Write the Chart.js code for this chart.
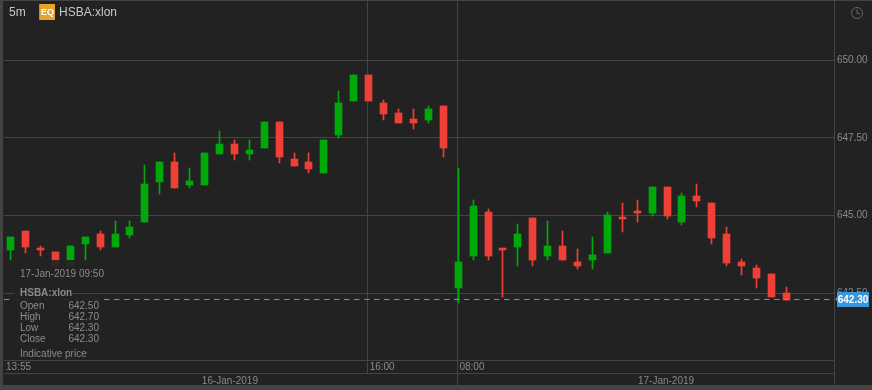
<!DOCTYPE html>
<html>
<head>
<meta charset="utf-8">
<title>HSBA:xlon</title>
<script src="https://cdn.jsdelivr.net/npm/chart.js@4"></script>
<style>
  html, body { margin: 0; padding: 0; background: #222; }
  #wrap { position: relative; width: 872px; height: 390px; overflow: hidden; background: #222;
          font-family: "Liberation Sans", Arial, sans-serif; }
  #chart { position: absolute; left: 0; top: 0; }
  .rule { position: absolute; background: #444; }
  .txt { position: absolute; white-space: nowrap; }
  #tip { position: absolute; left: 14px; top: 260px; width: 90px; height: 100px;
         background: rgba(34,34,34,.9); color: #8c8c8c; font-size: 10px; }
  #tip .txt { line-height: 12px; }
</style>
</head>
<body>
<div id="wrap">
  <canvas id="chart" width="872" height="390"></canvas>

  <div class="rule" style="left:0;top:0;width:3px;height:390px"></div>
  <div class="rule" style="left:0;top:0;width:872px;height:1px"></div>
  <div class="rule" style="left:0;top:385px;width:872px;height:5px"></div>
  <div class="rule" style="left:834px;top:360px;width:1px;height:25px"></div>

  <div class="txt" style="left:9px;top:5px;font-size:12px;color:#c8c8c8;line-height:14px">5m</div>
  <div class="txt" style="left:39px;top:4px;width:16px;height:16px;background:#e8a228;border-left:1px solid #c98a1c;box-sizing:border-box;color:#fff;font-size:9px;font-weight:bold;line-height:16px;text-align:center">EQ</div>
  <div class="txt" style="left:59px;top:5px;font-size:12px;color:#c8c8c8;line-height:14px">HSBA:xlon</div>
  <svg class="txt" style="left:850px;top:6px" width="14" height="14" viewBox="0 0 14 14">
    <circle cx="7" cy="7" r="5.5" fill="none" stroke="#666" stroke-width="1"/>
    <path d="M7 3.5V7.5H10" fill="none" stroke="#666" stroke-width="1"/>
  </svg>

  <div id="tip">
    <div class="txt" style="left:6px;top:8px">17-Jan-2019 09:50</div>
    <div class="rule" style="left:0;top:33px;width:90px;height:1px"></div>
    <div class="txt" style="left:0;top:26px;padding:0 0 0 6px;background:#222;font-weight:bold;line-height:13px">HSBA:xlon</div>
    <div class="txt" style="left:6px;top:40px">Open</div><div class="txt" style="right:5px;top:40px">642.50</div>
    <div class="txt" style="left:6px;top:51px">High</div><div class="txt" style="right:5px;top:51px">642.70</div>
    <div class="txt" style="left:6px;top:62px">Low</div><div class="txt" style="right:5px;top:62px">642.30</div>
    <div class="txt" style="left:6px;top:73px">Close</div><div class="txt" style="right:5px;top:73px">642.30</div>
    <div class="txt" style="left:6px;top:88px">Indicative price</div>
  </div>

  <div class="txt" style="left:835px;top:297px;width:0;height:0;border-top:2.5px solid transparent;border-bottom:2.5px solid transparent;border-right:2px solid #3a96dc"></div>
  <div class="txt" style="left:837px;top:292px;width:32px;height:15px;background:#3a96dc;color:#fff;font-size:10px;font-weight:bold;line-height:15px;text-align:center">642.30</div>
</div>

<script>
const opens  = [643.9,644.5,643.9,643.8,643.4,644.1,644.4,644.0,644.4,644.8,646.1,646.7,646.0,646.0,647.0,647.3,647.0,647.2,648.0,646.8,646.7,646.4,647.6,648.7,649.5,648.6,648.3,648.1,648.1,648.5,642.7,643.7,645.1,643.9,644.0,644.9,643.7,644.0,643.5,643.6,643.8,644.9,645.1,645.1,645.9,644.8,645.6,645.4,644.4,643.5,643.3,643.1,642.5];
const highs  = [644.3,644.5,644.0,643.8,644.0,644.3,644.5,644.8,644.8,646.6,646.7,647.0,646.5,647.0,647.7,647.4,647.4,648.0,648.0,647.0,647.0,647.4,649.0,649.5,649.5,648.7,648.4,648.4,648.5,648.5,646.5,645.5,645.2,643.9,644.7,644.9,644.8,644.5,643.9,644.3,645.1,645.4,645.5,645.9,645.9,645.7,646.0,645.4,644.6,643.6,643.4,643.1,642.7];
const lows   = [643.6,643.8,643.7,643.4,643.4,643.5,643.9,644.0,644.3,644.8,645.7,645.9,645.9,646.0,647.0,646.8,646.8,647.2,646.7,646.6,646.4,646.4,647.5,648.7,648.7,648.1,648.0,647.8,648.0,646.9,642.2,643.6,643.6,642.4,643.4,643.4,643.6,643.6,643.3,643.3,643.8,644.5,644.8,645.0,644.9,644.7,645.3,644.1,643.4,643.1,642.7,642.4,642.3];
const closes = [644.3,644.0,643.9,643.4,644.0,644.3,644.0,644.4,644.6,646.0,646.7,645.9,646.1,647.0,647.3,647.0,647.1,648.0,646.9,646.6,646.5,647.4,648.6,649.5,648.7,648.3,648.0,648.0,648.4,647.2,643.5,645.3,643.7,643.9,644.4,643.6,644.0,643.6,643.4,643.7,645.0,644.9,645.1,645.9,645.0,645.6,645.5,644.3,643.5,643.4,643.0,642.4,642.3];

const priceTicks = [650, 647.5, 645, 642.5];
const timeTicks  = [-0.442, 23.93, 29.95];
const timeLabels = ['13:55', '16:00', '08:00'];
const dayTicks   = [14.7, 29.95, 43.93];
const dayLabels  = ['16-Jan-2019', '', '17-Jan-2019'];
const lastPrice  = 642.3;

const GREEN = '#00a80a';
const RED   = '#ee4036';
const LINE  = '#444444';
const TEXT  = '#8a8a8a';

const xMin = -0.442, xMax = 55.188;

const candleColors = opens.map((o, i) => closes[i] > o ? GREEN : RED);

// chart is drawn pixel-crisp, like the original
const snapBars = {
  id: 'snapBars',
  beforeDatasetDraw(chart, args) {
    if (args.meta.type !== 'bar') return;
    args.meta.data.forEach(el => {
      const top = Math.floor(Math.min(el.y, el.base));
      const bottom = Math.ceil(Math.max(el.y, el.base));
      el.x = Math.floor(el.x) + 0.5;
      el.y = top;
      el.base = bottom > top ? bottom : top + 1;
    });
  }
};

// labels may not push the plot area in, the box is fixed
function fixBox(s, size) {
  if (s.isHorizontal()) s.height = size; else s.width = size;
  s.paddingLeft = s.paddingRight = s.paddingTop = s.paddingBottom = 0;
}

new Chart(document.getElementById('chart'), {
  type: 'bar',
  plugins: [snapBars],
  data: {
    datasets: [{
      label: 'Last price',
      type: 'line',
      order: 0,
      data: [{ x: xMin, y: lastPrice }, { x: xMax, y: lastPrice }],
      borderColor: '#4a9fd6',
      borderWidth: 1,
      borderDash: [5.5, 4.5],
      pointRadius: 0
    }, {
      label: 'Body',
      order: 1,
      grouped: false,
      data: opens.map((o, i) => ({ x: i, y: [o, closes[i]] })),
      backgroundColor: candleColors,
      barThickness: 7,
      minBarLength: 1
    }, {
      label: 'Wick',
      order: 2,
      grouped: false,
      data: lows.map((l, i) => ({ x: i, y: [l, highs[i]] })),
      backgroundColor: candleColors,
      barThickness: 1
    }]
  },
  options: {
    responsive: false,
    animation: false,
    events: [],
    layout: { padding: { left: 4, top: 1, right: 0, bottom: 5 } },
    plugins: { legend: { display: false }, tooltip: { enabled: false } },
    scales: {
      x: {
        type: 'linear',
        position: 'bottom',
        offset: false,
        weight: 0,
        min: xMin,
        max: xMax,
        afterBuildTicks: s => { s.ticks = timeTicks.map(value => ({ value })); },
        afterFit: s => fixBox(s, 13),
        grid: {
          offset: false,
          color: ctx => ctx.index === 0 ? 'transparent' : LINE,
          tickLength: 13
        },
        border: { display: true, color: LINE },
        ticks: {
          autoSkip: false,
          maxRotation: 0,
          align: 'start',
          labelOffset: 2,
          padding: -11.5,
          color: TEXT,
          font: { size: 10, family: '"Liberation Sans", Arial, sans-serif' },
          callback: (v, i) => timeLabels[i]
        }
      },
      xDay: {
        type: 'linear',
        position: 'bottom',
        offset: false,
        weight: 1,
        min: xMin,
        max: xMax,
        afterBuildTicks: s => { s.ticks = dayTicks.map(value => ({ value })); },
        afterFit: s => fixBox(s, 12),
        grid: {
          offset: false,
          drawOnChartArea: false,
          tickLength: 12,
          tickColor: ctx => ctx.index === 1 ? LINE : 'transparent'
        },
        border: { display: true, color: LINE },
        ticks: {
          autoSkip: false,
          maxRotation: 0,
          padding: -10,
          color: TEXT,
          font: { size: 10, family: '"Liberation Sans", Arial, sans-serif' },
          callback: (v, i) => dayLabels[i]
        }
      },
      y: {
        position: 'right',
        min: 640.351,
        max: 651.905,
        afterBuildTicks: s => { s.ticks = priceTicks.map(value => ({ value })); },
        afterFit: s => fixBox(s, 38),
        grid: { color: LINE, drawTicks: false },
        border: { display: true, color: LINE },
        ticks: {
          padding: 3,
          color: TEXT,
          font: { size: 10, family: '"Liberation Sans", Arial, sans-serif' },
          callback: v => v.toFixed(2)
        }
      }
    }
  }
});
</script>
</body>
</html>
